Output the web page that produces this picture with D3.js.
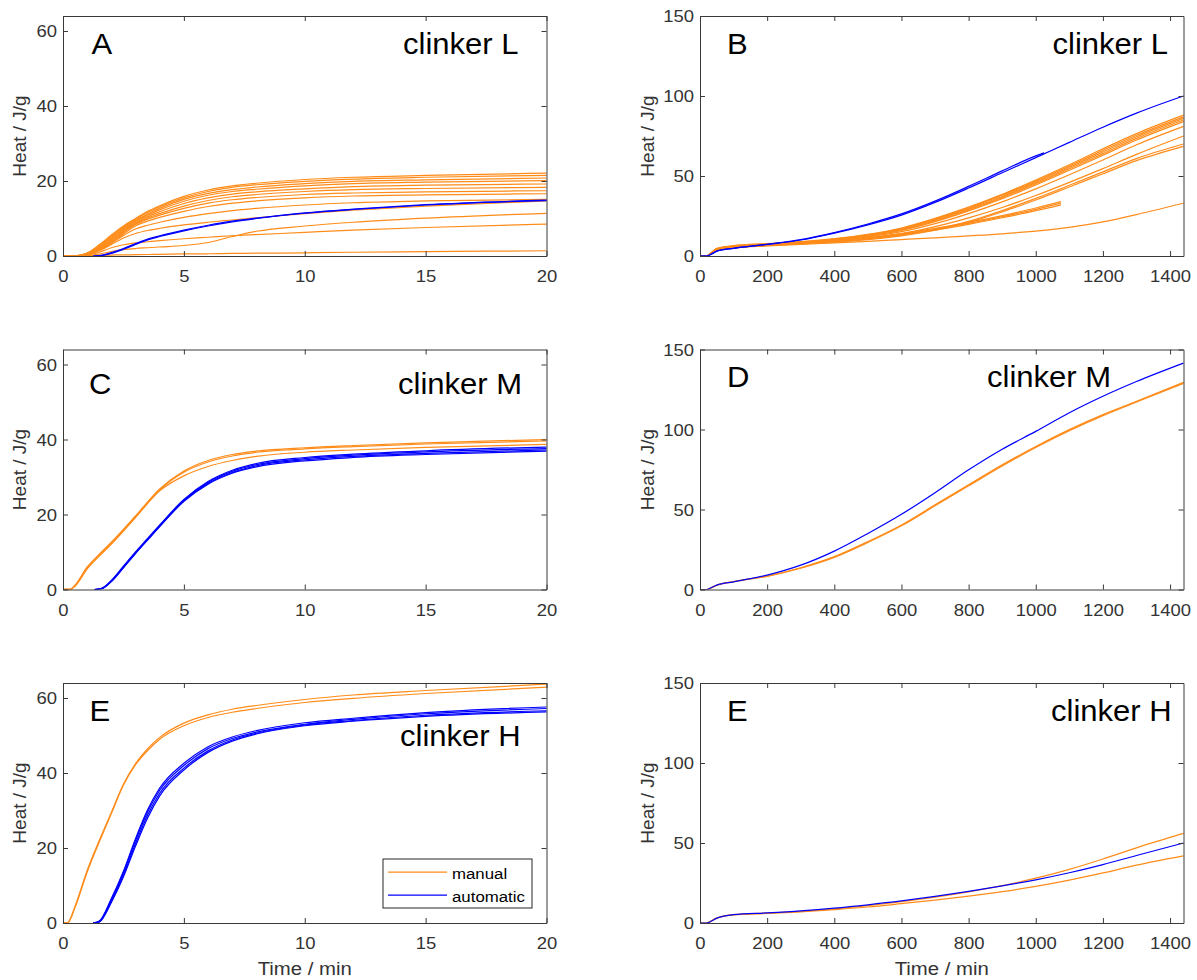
<!DOCTYPE html>
<html><head><meta charset="utf-8">
<script src="https://cdn.jsdelivr.net/npm/d3@7"></script>
<style>
body{margin:0;background:#fff}
svg{display:block}
text{font-family:"Liberation Sans",Arial,Helvetica,sans-serif}
</style>
</head><body>
<svg id="chart" width="1197" height="980"></svg>
<script>
// ---------------- tick labels ----------------
const xTicksShort = [0, 5, 10, 15, 20];
const yTicksShort = [0, 20, 40, 60];
const xTicksLong = [0, 200, 400, 600, 800, 1000, 1200, 1400];
const yTicksLong = [0, 50, 100, 150];
const legendLabels = ["manual", "automatic"];

// ---------------- time grids (min) ----------------
const tA = [0, 0.5, 1, 1.5, 2, 2.5, 3, 3.5, 4, 5, 6, 7, 8, 10, 12, 15, 20];
const tA_auto = [1.25, 1.5, 2, 2.5, 3, 3.5, 4, 5, 6, 7, 8, 10, 12, 15, 20];
const tLong = [0, 20, 30, 50, 100, 200, 300, 400, 500, 600, 700, 800, 900, 1000, 1100, 1200, 1300, 1440];
const tB_autoShort = [0, 20, 30, 50, 100, 200, 300, 400, 500, 600, 700, 800, 900, 1000, 1025];
const tB_manShort = [0, 20, 30, 50, 100, 200, 300, 400, 500, 600, 700, 800, 900, 1000, 1075];
const tC = [0, 0.3, 0.5, 1, 1.5, 2, 3, 4, 5, 6, 7, 8, 10, 12, 15, 20];
const tC_auto = [1.3, 1.6, 2, 2.5, 3, 3.5, 4, 5, 6, 7, 8, 10, 12, 15, 20];
const tE = [0, 0.2, 0.5, 1, 1.5, 2, 2.5, 3, 3.5, 4, 5, 6, 7, 8, 10, 12, 15, 20];
const tE_auto = [1.25, 1.5, 2, 2.5, 3, 3.5, 4, 5, 6, 7, 8, 10, 12, 15, 20];

// ---------------- clinker L, first 20 min (J/g) ----------------
const L20_manual1  = [0, 0.05, 0.8, 3.0, 5.6, 8.0, 10.0, 11.9, 13.4, 15.9, 17.6, 18.7, 19.4, 20.4, 21.0, 21.5, 22.1];
const L20_manual2  = [0, 0.05, 0.7, 2.8, 5.3, 7.7, 9.8, 11.6, 13.1, 15.5, 17.2, 18.3, 19.0, 19.9, 20.5, 21.0, 21.5];
const L20_manual3  = [0, 0.05, 0.7, 2.6, 5.0, 7.4, 9.5, 11.2, 12.7, 15.1, 16.7, 17.7, 18.4, 19.3, 19.9, 20.3, 20.8];
const L20_manual4  = [0, 0.05, 0.6, 2.4, 4.7, 7.1, 9.2, 10.9, 12.3, 14.6, 16.2, 17.2, 17.8, 18.7, 19.3, 19.7, 20.1];
const L20_manual5  = [0, 0.05, 0.6, 2.2, 4.4, 6.8, 8.9, 10.5, 11.8, 14.0, 15.5, 16.5, 17.1, 17.9, 18.5, 18.9, 19.2];
const L20_manual6  = [0, 0.05, 0.5, 2.0, 4.1, 6.5, 8.6, 10.1, 11.3, 13.3, 14.8, 15.8, 16.4, 17.2, 17.7, 18.0, 18.3];
const L20_manual7  = [0, 0.05, 0.5, 1.9, 3.9, 6.3, 8.4, 9.8, 10.9, 12.7, 14.1, 15.0, 15.6, 16.4, 16.8, 17.1, 17.4];
const L20_manual8  = [0, 0.05, 0.4, 1.7, 3.6, 5.9, 8.0, 9.3, 10.3, 11.9, 13.2, 14.1, 14.7, 15.5, 16.0, 16.3, 16.6];
const L20_manual9  = [0, 0.05, 0.4, 1.6, 3.4, 5.5, 7.2, 8.2, 9.0, 10.3, 11.3, 12.1, 12.7, 13.6, 14.2, 14.7, 15.1];
const L20_manual10 = [0, 0.05, 0.3, 1.4, 3.1, 4.8, 6.0, 6.8, 7.4, 8.3, 9.0, 9.6, 10.2, 11.3, 12.2, 13.3, 14.7];
const L20_manual11 = [0, 0, 0.1, 0.5, 1.2, 1.7, 2.0, 2.2, 2.4, 2.8, 3.6, 5.2, 6.6, 8.0, 9.0, 10.1, 11.4];
const L20_manual12 = [0, 0, 0.2, 1.0, 2.2, 3.0, 3.5, 3.8, 4.1, 4.6, 5.0, 5.4, 5.7, 6.3, 6.9, 7.6, 8.5];
const L20_manual13 = [0, 0, 0.05, 0.15, 0.25, 0.3, 0.35, 0.4, 0.45, 0.55, 0.6, 0.7, 0.75, 0.85, 1.0, 1.15, 1.4];
const L20_auto1 = [0, 0.1, 0.9, 2.0, 3.3, 4.5, 5.4, 6.9, 8.2, 9.3, 10.1, 11.5, 12.5, 13.7, 14.9];
const L20_auto2 = [0, 0.05, 0.7, 1.8, 3.1, 4.3, 5.2, 6.7, 8.0, 9.1, 10.0, 11.4, 12.4, 13.6, 14.8];

// ---------------- clinker L, 24 h ----------------
const L24_manual1  = [0, 0, 1.5, 4.8, 6.5, 7.8, 9.0, 10.8, 13.5, 17.5, 23.5, 30.5, 38.5, 47.5, 57.0, 67.0, 76.5, 88.0];
const L24_manual2  = [0, 0, 1.4, 4.6, 6.3, 7.6, 8.8, 10.6, 13.2, 17.1, 23.0, 30.0, 38.0, 46.8, 56.2, 66.0, 75.5, 87.0];
const L24_manual3  = [0, 0, 1.3, 4.4, 6.1, 7.4, 8.6, 10.4, 13.0, 16.8, 22.6, 29.4, 37.2, 46.0, 55.3, 65.0, 74.5, 86.0];
const L24_manual4  = [0, 0, 1.2, 4.2, 5.9, 7.2, 8.4, 10.2, 12.7, 16.4, 22.0, 28.8, 36.5, 45.2, 54.5, 64.0, 73.5, 85.0];
const L24_manual5  = [0, 0, 1.1, 4.0, 5.7, 7.0, 8.2, 10.0, 12.4, 16.0, 21.5, 28.2, 35.8, 44.4, 53.6, 63.0, 72.5, 84.0];
const L24_manual6  = [0, 0, 1.2, 4.3, 6.0, 7.2, 8.3, 9.8, 12.0, 15.2, 20.2, 26.5, 33.8, 42.0, 50.8, 60.0, 69.5, 81.0];
const L24_manual7  = [0, 0, 1.0, 3.8, 5.5, 6.8, 7.8, 9.2, 11.2, 14.0, 18.3, 23.8, 30.3, 37.8, 46.0, 54.6, 63.5, 75.0];
const L24_manual8  = [0, 0, 1.0, 3.6, 5.3, 6.6, 7.6, 8.9, 10.6, 13.0, 16.6, 21.6, 28.4, 36.0, 44.2, 52.6, 60.9, 70.0];
const L24_manual9  = [0, 0, 0.9, 3.5, 5.2, 6.5, 7.5, 8.7, 10.3, 12.6, 16.1, 21.0, 27.6, 35.0, 43.1, 51.4, 59.6, 68.5];
const L24_manual10 = [0, 0, 1.0, 3.5, 5.0, 6.3, 7.3, 8.2, 9.2, 10.3, 11.4, 12.6, 13.9, 15.6, 17.9, 21.3, 25.9, 33.0];
const L24_manualS1 = [0, 0, 1.2, 4.3, 6.0, 7.3, 8.3, 9.6, 11.5, 14.0, 17.2, 21.0, 25.3, 30.0, 34.0];
const L24_manualS2 = [0, 0, 1.1, 4.1, 5.8, 7.1, 8.1, 9.4, 11.2, 13.6, 16.7, 20.4, 24.6, 29.2, 33.0];
const L24_manualS3 = [0, 0, 1.0, 3.9, 5.6, 6.9, 7.9, 9.2, 10.9, 13.2, 16.2, 19.8, 23.9, 28.3, 32.0];
const L24_auto1 = [0, 0, 0.8, 3.0, 4.8, 7.2, 10.0, 14.3, 19.5, 25.6, 33.5, 42.5, 52.0, 61.5, 71.0, 80.5, 89.3, 100.0];
const L24_autoS = [0, 0, 0.8, 3.0, 4.8, 7.3, 10.2, 14.6, 20.0, 26.3, 34.3, 43.5, 53.2, 62.6, 64.5];

// ---------------- clinker M ----------------
const M20_manual1 = [0, 0.05, 1.2, 6.0, 9.4, 12.6, 19.6, 26.8, 31.6, 34.4, 36.0, 36.9, 37.8, 38.4, 39.1, 40.0];
const M20_manual2 = [0, 0.05, 1.0, 5.7, 9.1, 12.3, 19.4, 26.6, 31.3, 34.0, 35.6, 36.6, 37.5, 38.1, 38.8, 39.6];
const M20_manual3 = [0, 0.05, 0.9, 5.5, 8.9, 12.1, 19.2, 26.3, 30.3, 32.8, 34.4, 35.5, 36.6, 37.2, 37.9, 38.7];
const M20_auto1 = [0, 0.3, 2.4, 6.2, 10.0, 13.6, 17.2, 24.0, 28.8, 31.8, 33.6, 35.2, 36.1, 37.0, 38.0];
const M20_auto2 = [0, 0.3, 2.3, 6.0, 9.8, 13.4, 17.0, 23.8, 28.6, 31.5, 33.3, 34.9, 35.8, 36.7, 37.6];
const M20_auto3 = [0, 0.25, 2.2, 5.9, 9.7, 13.3, 16.9, 23.6, 28.3, 31.2, 33.0, 34.6, 35.5, 36.3, 37.2];
const M20_auto4 = [0, 0.2, 2.1, 5.8, 9.6, 13.2, 16.8, 23.5, 28.1, 31.0, 32.7, 34.3, 35.2, 36.0, 36.9];
const M24_manual1 = [0, 0, 0.8, 2.8, 5.0, 8.4, 13.6, 20.5, 29.9, 40.3, 52.9, 65.4, 77.9, 89.4, 99.9, 109.3, 117.6, 129.5];
const M24_manual2 = [0, 0, 0.7, 2.6, 4.8, 8.2, 13.3, 20.1, 29.4, 39.8, 52.3, 64.8, 77.2, 88.8, 99.3, 108.7, 117.2, 128.8];
const M24_auto1 = [0, 0, 0.8, 2.7, 4.8, 9.0, 15.2, 24.0, 35.0, 47.0, 60.5, 74.8, 87.7, 98.8, 110.5, 120.8, 130.0, 141.5];

// ---------------- clinker H ----------------
const H20_manual1 = [0, 0.1, 4.5, 14.0, 22.0, 29.5, 37.0, 42.5, 46.5, 49.5, 53.3, 55.5, 57.0, 58.0, 59.6, 60.8, 62.0, 63.7];
const H20_manual2 = [0, 0.1, 4.2, 13.6, 21.6, 29.2, 36.8, 42.2, 46.0, 49.0, 52.6, 54.8, 56.2, 57.2, 58.8, 59.9, 61.2, 62.9];
const H20_auto1 = [0, 0.5, 6.5, 13.8, 22.5, 30.2, 36.0, 42.6, 47.0, 49.6, 51.3, 53.4, 54.6, 56.1, 57.6];
const H20_auto2 = [0, 0.4, 6.2, 13.4, 22.0, 29.6, 35.4, 42.0, 46.5, 49.2, 50.9, 53.0, 54.3, 55.8, 57.2];
const H20_auto3 = [0, 0.3, 5.8, 12.8, 21.2, 28.8, 34.6, 41.3, 45.9, 48.8, 50.6, 52.8, 54.0, 55.4, 56.6];
const H20_auto4 = [0, 0.3, 5.5, 12.3, 20.5, 28.0, 33.9, 40.8, 45.5, 48.5, 50.4, 52.6, 53.8, 55.1, 56.3];
const H24_manual1 = [0, 0, 0.9, 3.2, 5.3, 6.2, 7.3, 8.8, 10.8, 13.3, 16.1, 19.4, 23.3, 28.0, 33.5, 40.0, 47.0, 56.0];
const H24_manual2 = [0, 0, 0.8, 3.0, 5.0, 6.0, 7.0, 8.4, 10.0, 12.1, 14.3, 16.8, 19.6, 22.9, 26.8, 31.3, 36.2, 42.0];
const H24_auto1 = [0, 0, 0.8, 3.0, 5.2, 6.3, 7.6, 9.3, 11.4, 13.8, 16.6, 19.8, 23.2, 27.0, 31.4, 36.5, 42.2, 50.0];

// ---------------- styling / layout ----------------
const ORANGE = "#ff8c1a", BLUE = "#0000ff", AXIS = "#3a3a3a", TXT = "#333333";
const W = 483.5, H = 240;
const SX = 1.1; // horizontal stretch of the reference's lettering

const S = (t, v) => t.map((x, i) => [x, v[i]]);

const panels = [
  { left: 63, top: 16, xMax: 20, yMax: 64, xt: xTicksShort, yt: yTicksShort,
    manual: [S(tA,L20_manual1),S(tA,L20_manual2),S(tA,L20_manual3),S(tA,L20_manual4),S(tA,L20_manual5),S(tA,L20_manual6),S(tA,L20_manual7),S(tA,L20_manual8),S(tA,L20_manual9),S(tA,L20_manual10),S(tA,L20_manual11),S(tA,L20_manual12),S(tA,L20_manual13)],
    auto: [S(tA_auto,L20_auto1),S(tA_auto,L20_auto2)],
    letter: "A", lp: [28.5, 38], clinker: "clinker L", cp: [340, 38], ylx: 26 },
  { left: 700, top: 16, xMax: 1440, yMax: 150, xt: xTicksLong, yt: yTicksLong,
    manual: [S(tLong,L24_manual1),S(tLong,L24_manual2),S(tLong,L24_manual3),S(tLong,L24_manual4),S(tLong,L24_manual5),S(tLong,L24_manual6),S(tLong,L24_manual7),S(tLong,L24_manual8),S(tLong,L24_manual9),S(tLong,L24_manual10),S(tB_manShort,L24_manualS1),S(tB_manShort,L24_manualS2),S(tB_manShort,L24_manualS3)],
    auto: [S(tLong,L24_auto1),S(tB_autoShort,L24_autoS)],
    letter: "B", lp: [27, 38], clinker: "clinker L", cp: [352.5, 38], ylx: 653.5 },
  { left: 63, top: 349.5, xMax: 20, yMax: 64, xt: xTicksShort, yt: yTicksShort,
    manual: [S(tC,M20_manual1),S(tC,M20_manual2),S(tC,M20_manual3)],
    auto: [S(tC_auto,M20_auto1),S(tC_auto,M20_auto2),S(tC_auto,M20_auto3),S(tC_auto,M20_auto4)],
    letter: "C", lp: [26, 44.5], clinker: "clinker M", cp: [335, 44], ylx: 26 },
  { left: 700, top: 349.5, xMax: 1440, yMax: 150, xt: xTicksLong, yt: yTicksLong,
    manual: [S(tLong,M24_manual1),S(tLong,M24_manual2)],
    auto: [S(tLong,M24_auto1)],
    letter: "D", lp: [27, 37.5], clinker: "clinker M", cp: [287, 37.5], ylx: 653.5 },
  { left: 63, top: 683, xMax: 20, yMax: 64, xt: xTicksShort, yt: yTicksShort,
    manual: [S(tE,H20_manual1),S(tE,H20_manual2)],
    auto: [S(tE_auto,H20_auto1),S(tE_auto,H20_auto2),S(tE_auto,H20_auto3),S(tE_auto,H20_auto4)],
    letter: "E", lp: [26.5, 38], clinker: "clinker H", cp: [337, 63], ylx: 26, legend: true, xlabel: true },
  { left: 700, top: 683, xMax: 1440, yMax: 150, xt: xTicksLong, yt: yTicksLong,
    manual: [S(tLong,H24_manual1),S(tLong,H24_manual2)],
    auto: [S(tLong,H24_auto1)],
    letter: "E", lp: [27, 38], clinker: "clinker H", cp: [351, 38], ylx: 653.5, xlabel: true }
];

const svg = d3.select("#chart");
svg.append("rect").attr("width", 1197).attr("height", 980).attr("fill", "#fff");

panels.forEach((p, i) => {
  const x = d3.scaleLinear().domain([0, p.xMax]).range([0, W]);
  const y = d3.scaleLinear().domain([0, p.yMax]).range([H, 0]);
  const g = svg.append("g").attr("transform", `translate(${p.left},${p.top})`);

  g.append("clipPath").attr("id", "clip" + i)
    .append("rect").attr("x", 0).attr("y", -1).attr("width", W + 1).attr("height", H + 1);

  const line = d3.line().x(d => x(d[0])).y(d => y(d[1])).curve(d3.curveMonotoneX);
  const plot = g.append("g").attr("clip-path", `url(#clip${i})`);
  plot.selectAll("path.man").data(p.manual).join("path").attr("class", "man")
    .attr("d", line).attr("fill", "none").attr("stroke", ORANGE).attr("stroke-width", 1.25)
    .attr("stroke-linejoin", "round");
  plot.selectAll("path.aut").data(p.auto).join("path").attr("class", "aut")
    .attr("d", line).attr("fill", "none").attr("stroke", BLUE).attr("stroke-width", 1.25)
    .attr("stroke-linejoin", "round");

  // axes (ticks pointing inward on all four sides)
  const styleAxis = sel => {
    sel.selectAll("path.domain").attr("stroke", AXIS);
    sel.selectAll(".tick line").attr("stroke", AXIS);
    sel.selectAll("text").attr("fill", TXT).attr("font-size", 16.8)
      .attr("font-family", '"Liberation Sans", Arial, sans-serif');
  };
  const gx = g.append("g").attr("transform", `translate(0,${H})`)
    .call(d3.axisBottom(x).tickValues(p.xt).tickSize(-5).tickSizeOuter(0).tickFormat(d3.format("d")));
  styleAxis(gx);
  gx.selectAll("text").attr("y", 0).attr("dy", 0)
    .attr("transform", `translate(0,26) scale(${SX},1)`);
  const gy = g.append("g")
    .call(d3.axisLeft(y).tickValues(p.yt).tickSize(-5).tickSizeOuter(0).tickFormat(d3.format("d")));
  styleAxis(gy);
  gy.selectAll("text").attr("x", 0).attr("dy", "0.35em")
    .attr("transform", `translate(-6,0) scale(${SX},1)`);
  const gt = g.append("g")
    .call(d3.axisTop(x).tickValues(p.xt).tickSize(-5).tickSizeOuter(0).tickFormat(""));
  styleAxis(gt);
  const gr = g.append("g").attr("transform", `translate(${W},0)`)
    .call(d3.axisRight(y).tickValues(p.yt).tickSize(-5).tickSizeOuter(0).tickFormat(""));
  styleAxis(gr);

  // panel letter and clinker name
  g.append("text").text(p.letter).attr("font-size", 29).attr("fill", "#000")
    .attr("transform", `translate(${p.lp[0]},${p.lp[1]}) scale(1.07,1)`);
  g.append("text").text(p.clinker).attr("font-size", 29).attr("fill", "#000")
    .attr("transform", `translate(${p.cp[0]},${p.cp[1]}) scale(1.07,1)`);

  // y label
  svg.append("text").text("Heat / J/g")
    .attr("transform", `translate(${p.ylx},${p.top + H / 2}) rotate(-90)`)
    .attr("text-anchor", "middle").attr("font-size", 19).attr("fill", TXT);

  if (p.xlabel) {
    svg.append("text").text("Time / min")
      .attr("transform", `translate(${p.left + W / 2},975) scale(${SX},1)`)
      .attr("text-anchor", "middle").attr("font-size", 18.5).attr("fill", TXT);
  }

  if (p.legend) {
    const lg = g.append("g").attr("transform", `translate(${W - 163.5},${H - 64})`);
    lg.append("rect").attr("width", 149).attr("height", 49)
      .attr("fill", "#fff").attr("stroke", "#262626").attr("stroke-width", 1);
    const items = [ORANGE, BLUE];
    lg.selectAll("g.item").data(legendLabels).join("g").attr("class", "item")
      .attr("transform", (d, k) => `translate(0,${13 + k * 23})`)
      .each(function (d, k) {
        const it = d3.select(this);
        it.append("line").attr("x1", 5).attr("x2", 64).attr("stroke", items[k]).attr("stroke-width", 1.25);
        it.append("text").text(d).attr("font-size", 15.3).attr("fill", "#000")
          .attr("transform", `translate(69,7) scale(${SX},1)`);
      });
  }
});
</script>
</body></html>
